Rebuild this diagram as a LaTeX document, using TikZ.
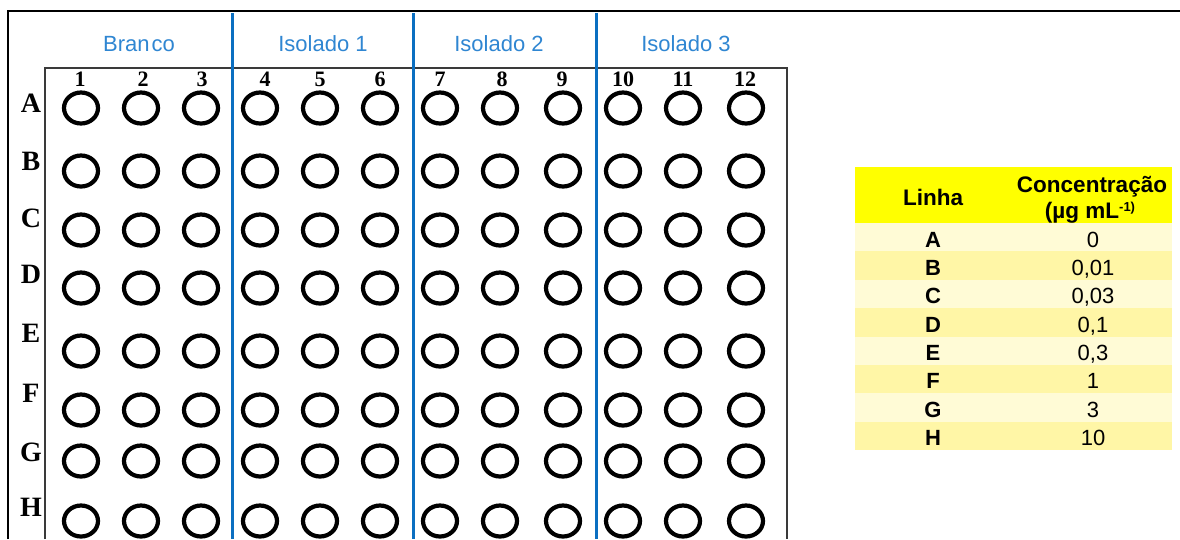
\documentclass[tikz,border=0pt]{standalone}
\usepackage{fontspec}
\setmainfont{Liberation Serif}
\newfontfamily\arial{Liberation Sans}
\usetikzlibrary{shapes.geometric}
\definecolor{divblue}{HTML}{0B6FC1}
\definecolor{grouptext}{HTML}{2F86D2}
\definecolor{hdryellow}{HTML}{FFFF00}
\definecolor{rowlight}{HTML}{FFFBD6}
\definecolor{rowdark}{HTML}{FFF6A6}
\definecolor{platecol}{HTML}{3A3A3A}
\begin{document}
\begin{tikzpicture}[x=1pt,y=-1pt,
  well/.style={ellipse, draw=black, line width=4.2pt, minimum width=34pt, minimum height=31pt, inner sep=0pt},
  rowlab/.style={font=\fontsize{28}{28}\selectfont\bfseries, inner sep=0pt},
  collab/.style={font=\fontsize{22}{22}\selectfont\bfseries, inner sep=0pt},
  grouplab/.style={font=\arial\fontsize{22}{22}\selectfont, text=grouptext, inner sep=0pt},
  divider/.style={draw=divblue, line width=3pt},
  platefr/.style={draw=platecol, line width=2pt},
  outerfr/.style={draw=black, line width=2.5pt},
  tabhead/.style={font=\arial\bfseries\fontsize{22.5}{22.5}\selectfont, inner sep=0pt, anchor=base},
  tabletter/.style={font=\arial\bfseries\fontsize{22}{22}\selectfont, inner sep=0pt, anchor=base},
  tabvalue/.style={font=\arial\fontsize{22}{22}\selectfont, inner sep=0pt, anchor=base}
]
\useasboundingbox (0,0) rectangle (1180,539);
\fill[white] (0,0) rectangle (1180,539);

% outer frame
\draw[outerfr] (8,539) -- (8,11) -- (1180,11);

% plate frame
\draw[platefr] (45,539) -- (45,68) -- (787,68) -- (787,539);

% group dividers
\foreach \x in {232,413,596}
  \draw[divider] (\x,13) -- (\x,539);

% group labels
\node[grouplab] (gBranco) at (139,44) {Bran\kern2pt co};
\node[grouplab] (gIso1) at (323,44) {Isolado 1};
\node[grouplab] (gIso2) at (499,44) {Isolado 2};
\node[grouplab] (gIso3) at (686,44) {Isolado 3};

% column numbers
\foreach \c/\x in {1/80,2/143,3/202,4/265,5/320,6/380,7/440,8/502,9/562,10/623,11/683,12/745}
  \node[collab] (col\c) at (\x,79) {\c};

% rows and wells
\foreach \r/\y/\ly in {A/108/103,B/171/161,C/230/218,D/288/274,E/351/333,F/410/393,G/461/452,H/521/507}{
  \node[rowlab] (row\r) at (31,\ly) {\r};
  \foreach \c/\x in {1/81,2/141,3/201,4/260,5/320,6/380,7/440,8/500,9/563,10/623,11/683,12/746}
    \node[well] (w\r\c) at (\x,\y) {};
}

% table
\fill[hdryellow] (855,167) rectangle (1172,223);
\node[tabhead] (hLinha) at (933,205) {Linha};
\node[tabhead] (hConc) at (1092,192) {Concentração};
\node[tabhead] (hUnit) at (1090,218) {(µg mL\raisebox{7pt}{\fontsize{13}{13}\selectfont -1)}};
\foreach \r/\v [count=\i from 0] in {A/0,B/{0,01},C/{0,03},D/{0,1},E/{0,3},F/1,G/3,H/10}{
  \pgfmathsetmacro\rtop{223+28.375*\i}
  \pgfmathsetmacro\rbot{223+28.375*(\i+1)}
  \ifodd\i\relax
    \fill[rowdark] (855,\rtop) rectangle (1172,\rbot);
  \else
    \fill[rowlight] (855,\rtop) rectangle (1172,\rbot);
  \fi
  \node[tabletter] (t\r) at (933,{\rtop+24}) {\r};
  \node[tabvalue] (v\r) at (1093,{\rtop+24}) {\v};
}
\end{tikzpicture}
\end{document}
